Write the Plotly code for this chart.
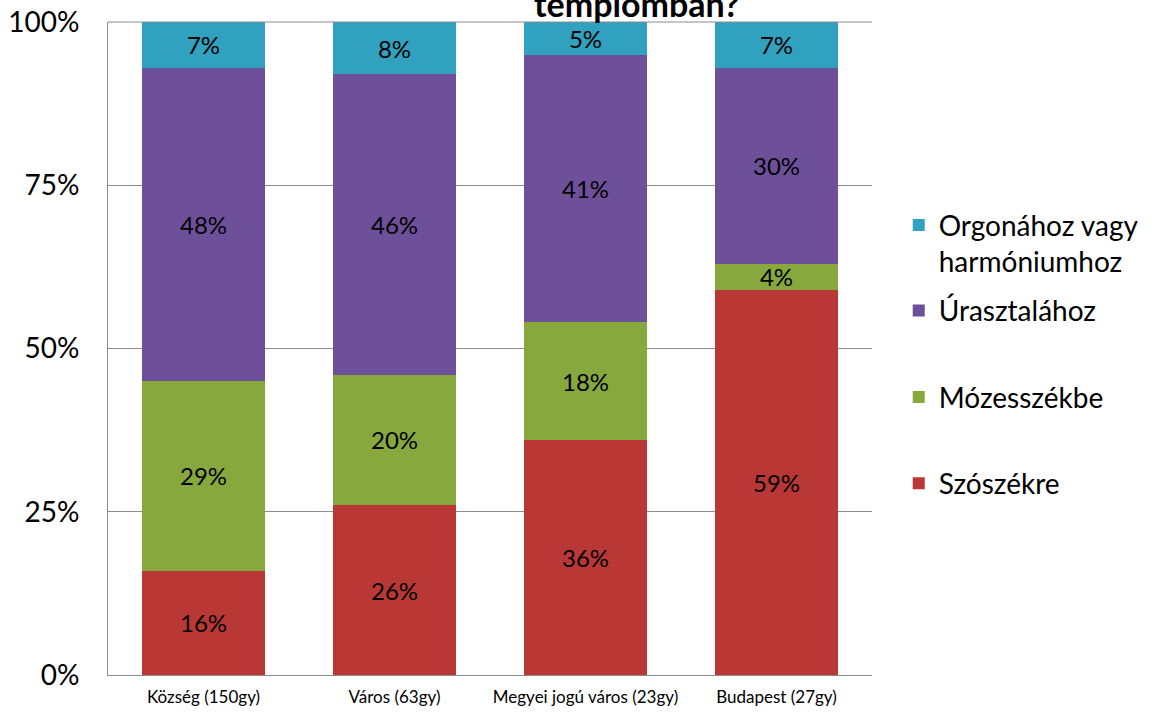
import plotly.graph_objects as go

categories = ["Község (150gy)", "Város (63gy)", "Megyei jogú város (23gy)", "Budapest (27gy)"]

szoszekre = [16, 26, 36, 59]
mozesszekbe = [29, 20, 18, 4]
urasztalahoz = [48, 46, 41, 30]
orgonahoz = [7, 8, 5, 7]

series = [
    ("Szószékre", szoszekre, "#B93734", "legend2", 3),
    ("Mózesszékbe", mozesszekbe, "#87A83D", "legend2", 2),
    ("Úrasztalához", urasztalahoz, "#6E509A", "legend2", 1),
    ("Orgonához vagy<br>harmóniumhoz", orgonahoz, "#30A1BE", "legend", 1),
]

FONT = "Lato"

fig = go.Figure()
for name, vals, color, leg, rank in series:
    fig.add_trace(go.Bar(
        x=categories,
        y=[v / 100 for v in vals],
        name=name,
        legend=leg,
        legendgroup=name,
        legendrank=rank,
        marker=dict(color=color, line=dict(width=0)),
        text=[f"{v}%" for v in vals],
        textposition="inside",
        insidetextanchor="middle",
        constraintext="none",
        textfont=dict(family=FONT, size=24, color="black"),
        hoverinfo="skip",
    ))

fig.update_layout(
    width=1154,
    height=715,
    barmode="stack",
    bargap=0.36,
    plot_bgcolor="white",
    paper_bgcolor="white",
    margin=dict(l=108, r=282, t=22, b=40, autoexpand=False),
    font=dict(family=FONT, color="black"),
    showlegend=True,
    legend=dict(
        x=1.035, y=0.727, xanchor="left", yanchor="top",
        font=dict(size=28), valign="top",
        itemwidth=30,
    ),
    legend2=dict(
        x=1.035, y=0.596, xanchor="left", yanchor="top",
        font=dict(size=28), traceorder="grouped",
        tracegroupgap=47, itemwidth=30,
    ),
    # title is cut off at the top edge, as in the original
    annotations=[dict(
        text="<b>templomban?</b>",
        xref="paper", yref="paper",
        x=0.692, y=0.994, xanchor="center", yanchor="bottom",
        showarrow=False,
        font=dict(family=FONT, size=34, color="black"),
    )],
)

fig.update_yaxes(
    range=[0, 1],
    tickvals=[0, 0.25, 0.5, 0.75, 1],
    tickformat=".0%",
    showgrid=True,
    gridcolor="#8C8C8C",
    gridwidth=1,
    showline=True,
    linecolor="#8C8C8C",
    zeroline=False,
    ticks="",
    tickfont=dict(size=28),
    ticklabelstandoff=22,
    ticklabeloverflow="allow",
    automargin=False,
)
fig.update_xaxes(
    showline=True,
    linecolor="#8C8C8C",
    ticks="",
    tickfont=dict(size=17),
    ticklabelstandoff=7,
    automargin=False,
)

# top border of plot area
fig.add_shape(type="line", xref="paper", yref="paper", x0=0, x1=1, y0=1, y1=1,
              line=dict(color="#8C8C8C", width=1))

# drop the default 8px body margin so the chart sits at the page corner
fig.write_html("out.html", config={"displayModeBar": False},
               post_script="document.body.style.margin='0';")
